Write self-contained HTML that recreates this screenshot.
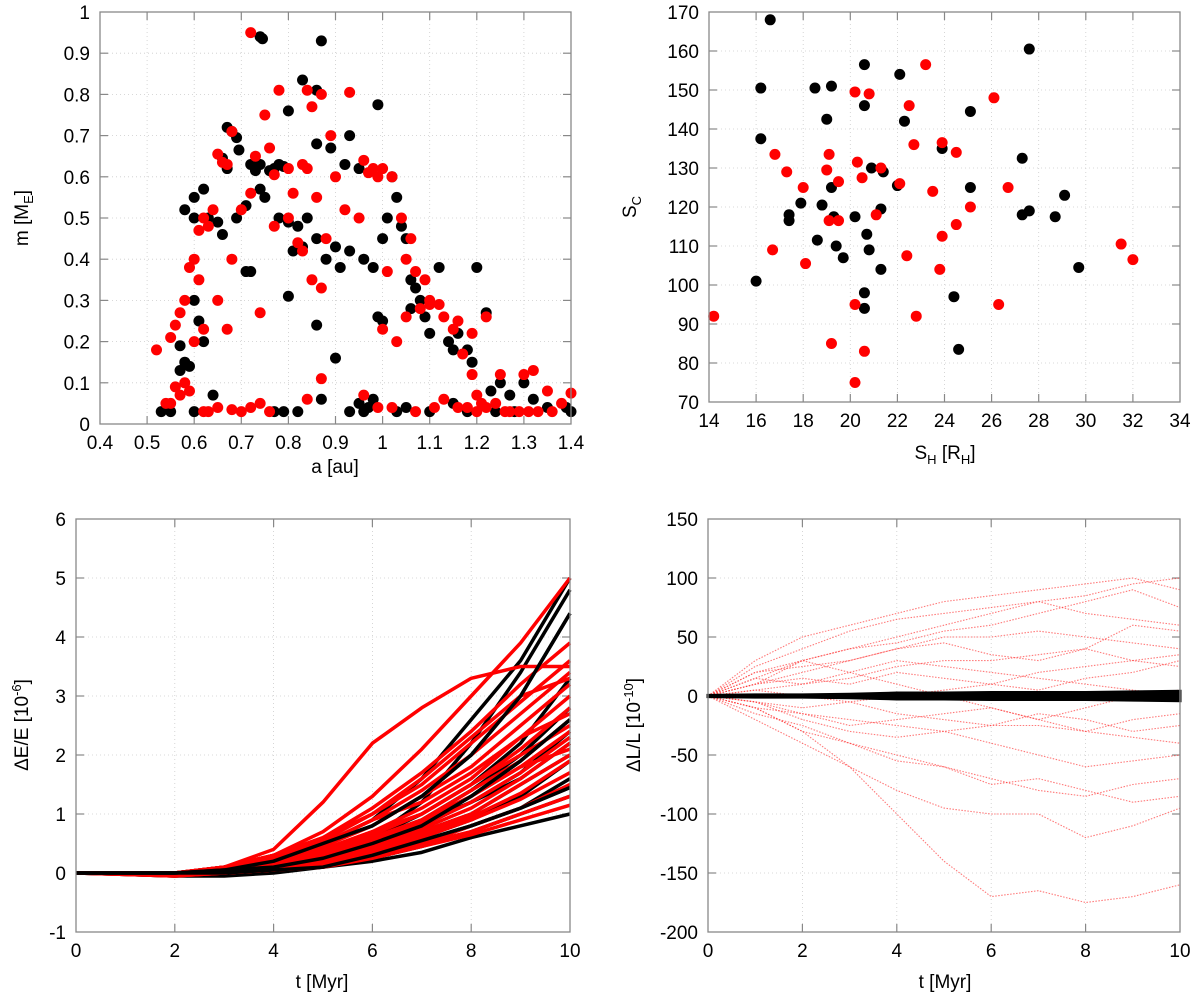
<!DOCTYPE html>
<html><head><meta charset="utf-8"><style>
body{margin:0;background:#fff;}
svg{display:block;font-family:"Liberation Sans",sans-serif;}
</style></head><body>
<svg id="c" width="1200" height="1008"></svg>
<script>
// ---------- DATA ----------
const tlBlack=[[0.74,0.94],[0.745,0.935],[0.87,0.93],[0.83,0.835],[0.86,0.81],[0.80,0.76],[0.99,0.775],[0.67,0.72],[0.68,0.71],[0.69,0.695],[0.695,0.665],[0.93,0.70],[0.86,0.68],[0.89,0.67],[0.92,0.63],[0.95,0.62],[0.72,0.63],[0.74,0.63],[0.77,0.62],[0.78,0.63],[0.79,0.625],[0.76,0.615],[0.73,0.615],[0.66,0.645],[0.67,0.62],[0.62,0.57],[0.60,0.55],[0.58,0.52],[0.60,0.5],[0.63,0.5],[0.65,0.49],[0.66,0.46],[0.69,0.5],[0.71,0.53],[0.74,0.57],[0.75,0.55],[0.78,0.5],[0.80,0.49],[0.82,0.48],[0.84,0.50],[0.86,0.45],[0.83,0.43],[0.81,0.42],[0.88,0.40],[0.90,0.43],[0.91,0.38],[0.93,0.42],[0.96,0.4],[0.98,0.38],[1.0,0.45],[1.02,0.6],[1.03,0.55],[1.01,0.5],[1.04,0.48],[1.05,0.45],[1.06,0.35],[1.07,0.33],[1.08,0.30],[1.06,0.28],[1.09,0.26],[1.1,0.22],[1.12,0.38],[1.14,0.2],[1.15,0.18],[1.16,0.22],[1.18,0.18],[1.19,0.15],[1.2,0.38],[1.22,0.27],[1.23,0.08],[1.25,0.1],[1.27,0.07],[1.3,0.1],[1.32,0.06],[1.35,0.04],[1.39,0.04],[1.4,0.03],[0.57,0.19],[0.58,0.15],[0.59,0.14],[0.6,0.3],[0.61,0.25],[0.62,0.2],[0.57,0.13],[0.55,0.03],[0.53,0.03],[0.6,0.03],[0.64,0.07],[0.71,0.37],[0.72,0.37],[0.8,0.31],[0.82,0.03],[0.86,0.24],[0.87,0.06],[0.9,0.16],[0.95,0.05],[0.97,0.04],[0.99,0.26],[1.0,0.25],[1.03,0.03],[1.05,0.04],[1.1,0.03],[1.15,0.05],[1.18,0.03],[1.24,0.03],[1.28,0.03],[0.77,0.03],[0.79,0.03],[0.93,0.03],[0.96,0.03],[0.98,0.06]];
const tlRed=[[0.72,0.95],[0.78,0.81],[0.84,0.81],[0.93,0.805],[0.87,0.80],[0.85,0.77],[0.75,0.75],[0.76,0.67],[0.89,0.70],[0.68,0.71],[0.65,0.655],[0.66,0.635],[0.67,0.63],[0.73,0.65],[0.77,0.605],[0.81,0.56],[0.80,0.62],[0.83,0.63],[0.84,0.62],[0.96,0.64],[0.97,0.61],[0.99,0.60],[0.98,0.62],[1.0,0.62],[1.02,0.6],[1.04,0.5],[1.06,0.45],[1.05,0.4],[1.07,0.37],[1.09,0.35],[1.1,0.3],[1.12,0.29],[1.13,0.26],[1.16,0.25],[1.19,0.22],[1.22,0.26],[1.25,0.12],[1.3,0.12],[1.32,0.13],[1.35,0.08],[1.4,0.075],[0.62,0.5],[0.63,0.48],[0.64,0.52],[0.61,0.47],[0.6,0.4],[0.61,0.35],[0.59,0.38],[0.58,0.3],[0.57,0.27],[0.56,0.24],[0.55,0.21],[0.52,0.18],[0.56,0.09],[0.57,0.07],[0.55,0.05],[0.54,0.05],[0.58,0.1],[0.59,0.08],[0.6,0.2],[0.62,0.23],[0.65,0.3],[0.67,0.23],[0.68,0.4],[0.7,0.52],[0.72,0.56],[0.74,0.27],[0.77,0.48],[0.8,0.5],[0.82,0.44],[0.83,0.42],[0.85,0.35],[0.86,0.55],[0.87,0.33],[0.88,0.45],[0.9,0.6],[0.92,0.52],[0.95,0.5],[1.0,0.23],[1.01,0.37],[1.03,0.2],[1.05,0.26],[1.08,0.28],[1.1,0.29],[1.15,0.23],[1.17,0.17],[1.19,0.12],[1.2,0.07],[1.21,0.05],[1.22,0.04],[1.24,0.05],[1.26,0.03],[1.27,0.03],[1.29,0.03],[1.31,0.03],[1.33,0.03],[1.36,0.03],[1.38,0.05],[1.13,0.06],[1.16,0.04],[1.18,0.04],[1.2,0.03],[0.65,0.04],[0.68,0.035],[0.7,0.03],[0.72,0.04],[0.74,0.05],[0.76,0.03],[0.84,0.06],[0.87,0.11],[0.96,0.07],[0.99,0.04],[1.02,0.04],[1.07,0.03],[1.11,0.04],[0.62,0.03],[0.63,0.03]];
const trBlack=[[16.6,168],[27.6,160.5],[16.2,150.5],[18.5,150.5],[19.2,151],[20.6,156.5],[22.1,154],[20.6,146],[25.1,144.5],[19.0,142.5],[22.3,142],[16.2,137.5],[23.9,135],[27.3,132.5],[20.9,130],[21.4,129],[22.0,125.5],[19.2,125],[25.1,125],[17.4,118],[17.4,116.5],[17.9,121],[18.8,120.5],[19.3,117.5],[21.3,119.5],[20.2,117.5],[27.3,118],[27.6,119],[29.1,123],[28.7,117.5],[18.6,111.5],[19.4,110],[19.7,107],[20.7,113],[20.8,109],[21.3,104],[16.0,101],[20.6,98],[20.6,94],[24.4,97],[29.7,104.5],[24.6,83.5]];
const trRed=[[23.2,156.5],[26.1,148],[20.2,149.5],[20.8,149],[22.5,146],[22.7,136],[23.9,136.5],[24.5,134],[16.8,133.5],[19.1,133.5],[20.3,131.5],[21.3,130],[17.3,129],[19.0,129.5],[20.5,127.5],[19.5,126.5],[22.1,126],[18.0,125],[26.7,125],[23.5,124],[25.1,120],[19.1,116.5],[19.5,116.5],[21.1,118],[23.9,112.5],[24.5,115.5],[16.7,109],[18.1,105.5],[22.4,107.5],[23.8,104],[31.5,110.5],[32.0,106.5],[14.2,92],[20.2,95],[22.8,92],[26.3,95],[19.2,85],[20.6,83],[20.2,75]];
const blT=[0,2,3,4,5,6,7,8,9,10];
const blBlack=[[0,0,0.05,0.15,0.3,0.6,1.2,2.2,3.4,4.8],[0,0,0.1,0.3,0.5,0.9,1.6,2.6,3.6,5.0],[0,0,0.05,0.2,0.5,0.8,1.3,2.0,3.0,4.4],[0,-0.05,0,0.1,0.3,0.6,1.0,1.5,2.2,3.3],[0,0,0.05,0.2,0.4,0.6,0.9,1.4,2.0,2.8],[0,0,0.1,0.2,0.35,0.55,0.85,1.2,1.7,2.4],[0,0,0.05,0.1,0.2,0.4,0.7,1.0,1.5,2.0],[0,-0.05,-0.05,0,0.1,0.3,0.5,0.8,1.1,1.6],[0,0,0,0.05,0.1,0.2,0.35,0.6,0.8,1.0],[0,0,0,0.05,0.15,0.25,0.45,0.7,1.0,1.3],[0,0,0.05,0.1,0.2,0.35,0.6,0.9,1.3,1.9],[0,0,0.05,0.15,0.3,0.5,0.8,1.2,1.6,2.2],[0,0,0,0.05,0.1,0.3,0.55,0.8,1.1,1.45],[0,0,0.05,0.1,0.25,0.5,0.8,1.3,1.9,2.6]];
const blRed=[[0,0,0.1,0.4,1.2,2.2,2.8,3.3,3.5,3.5],[0,0,0.1,0.3,0.7,1.3,2.1,3.0,3.9,5.0],[0,0,0.1,0.3,0.6,1.1,1.7,2.4,3.2,3.9],[0,0,0.05,0.25,0.5,0.9,1.4,2.0,2.7,3.4],[0,0,0.05,0.2,0.45,0.8,1.3,1.8,2.5,3.2],[0,0,0.05,0.2,0.4,0.7,1.1,1.6,2.3,3.0],[0,0,0.05,0.2,0.4,0.7,1.0,1.5,2.1,2.8],[0,0,0.05,0.15,0.35,0.6,0.9,1.4,1.9,2.6],[0,0,0.05,0.15,0.3,0.55,0.85,1.3,1.8,2.4],[0,-0.05,0,0.1,0.3,0.5,0.8,1.2,1.7,2.3],[0,0,0.05,0.1,0.25,0.45,0.75,1.1,1.6,2.2],[0,0,0.05,0.1,0.25,0.45,0.7,1.0,1.5,2.0],[0,0,0,0.1,0.2,0.4,0.65,0.95,1.35,1.9],[0,0,0,0.1,0.2,0.35,0.6,0.9,1.25,1.7],[0,0,0,0.05,0.15,0.3,0.5,0.8,1.1,1.5],[0,-0.05,0,0.05,0.15,0.3,0.5,0.7,1.0,1.3],[0,0,0,0.05,0.1,0.25,0.45,0.65,0.9,1.15],[0,0,0.1,0.3,0.6,1.0,1.5,2.2,2.9,3.6],[0,0,0.05,0.15,0.35,0.65,1.0,1.5,2.0,2.5],[0,0,0.05,0.1,0.3,0.55,0.9,1.3,1.8,2.1],[0,0,0.1,0.25,0.55,1.0,1.6,2.3,3.0,3.3],[0,0,0.05,0.2,0.5,0.9,1.2,1.7,2.3,2.7]];
const blBlackTop=[2,12,13];
const brT=[0,1,2,3,4,5,6,7,8,9,10];
const brRed=[[0,20,30,40,50,60,70,80,85,95,100],[0,30,50,60,70,80,85,90,95,100,90],[0,15,30,40,45,55,60,70,80,90,75],[0,-10,-30,-60,-100,-140,-170,-165,-175,-170,-160],[0,-20,-40,-60,-80,-95,-100,-100,-120,-110,-95],[0,-10,-30,-40,-55,-60,-70,-80,-85,-75,-70],[0,10,20,30,40,50,50,55,50,45,40],[0,-5,-15,-20,-25,-30,-40,-50,-60,-55,-50],[0,5,10,15,25,30,30,35,40,30,25],[0,-5,-10,-5,-15,-20,-25,-25,-30,-35,-40],[0,10,15,10,20,15,10,5,15,20,30],[0,-10,-15,-25,-20,-15,-10,-20,-30,-20,-15],[0,20,25,30,40,45,35,30,40,60,55],[0,-15,-25,-40,-50,-60,-75,-70,-80,-90,-85],[0,5,0,-5,0,5,10,20,25,30,35],[0,15,10,20,30,25,20,15,10,5,0],[0,-5,-20,-30,-35,-30,-25,-15,-20,-30,-25],[0,25,40,55,65,70,75,80,70,65,60],[0,10,30,20,10,0,-10,-20,-10,0,5]];
const brBlackUp=[0.5,1,1,1.5,2.5,2.5,3,3,3,3.5,4];
const brBlackLo=[-0.5,-1,-1,-1.5,-2.5,-2.5,-3,-3,-3,-3.5,-4];
const tlXT=[0.4,0.5,0.6,0.7,0.8,0.9,1,1.1,1.2,1.3,1.4], tlYT=[0,0.1,0.2,0.3,0.4,0.5,0.6,0.7,0.8,0.9,1];
const trXT=[14,16,18,20,22,24,26,28,30,32,34], trYT=[70,80,90,100,110,120,130,140,150,160,170];
const bXT=[0,2,4,6,8,10], blYT=[-1,0,1,2,3,4,5,6], brYT=[-200,-150,-100,-50,0,50,100,150];

// ---------- DRAW ----------
const NS='http://www.w3.org/2000/svg', svg=document.getElementById('c');
function mk(tag,at,parent){const e=document.createElementNS(NS,tag);for(const k in at)e.setAttribute(k,at[k]);(parent||svg).appendChild(e);return e;}
function panel(name,L,T,R,B,x0,x1,y0,y1,xt,yt){
  const g=mk('g',{});
  
  
  const sx=v=>L+(v-x0)/(x1-x0)*(R-L), sy=v=>B-(v-y0)/(y1-y0)*(B-T);
  xt.forEach(v=>{const x=sx(v);
    if(v!==x0&&v!==x1){const gl=mk('line',{x1:x,x2:x,y1:T,y2:B,stroke:'#ccc','stroke-width':0.8,'stroke-dasharray':'1 3'},g);
      mk('line',{x1:x,x2:x,y1:B,y2:B-8,stroke:'#888','stroke-width':1.2},g);mk('line',{x1:x,x2:x,y1:T,y2:T+8,stroke:'#888','stroke-width':1.2},g);}
    const t=mk('text',{x:x,y:B+25,'text-anchor':'middle','font-size':19,fill:'#000'},g);t.textContent=v;
    });
  yt.forEach(v=>{const y=sy(v);
    if(v!==y0&&v!==y1){const gl=mk('line',{x1:L,x2:R,y1:y,y2:y,stroke:'#ccc','stroke-width':0.8,'stroke-dasharray':'1 3'},g);
      mk('line',{x1:L,x2:L+8,y1:y,y2:y,stroke:'#888','stroke-width':1.2},g);mk('line',{x1:R,x2:R-8,y1:y,y2:y,stroke:'#888','stroke-width':1.2},g);}
    const t=mk('text',{x:L-10,y:y+7,'text-anchor':'end','font-size':19,fill:'#000'},g);t.textContent=v;
    });
  const cg=mk('g',{},g);
  return {g,cg,sx,sy,frame:()=>{const f=mk('rect',{x:L,y:T,width:R-L,height:B-T,fill:'none',stroke:'#888','stroke-width':1.3},g);}};
}
function label(txt,x,y,rot,name){const t=mk('text',{x:x,y:y,'text-anchor':'middle','font-size':19,fill:'#000',transform:rot?`rotate(-90 ${x} ${y})`:''});t.innerHTML=txt;
  }

// Top-left
let p=panel('mass-vs-a-panel',100,12,571,424,0.4,1.4,0,1,tlXT,tlYT);
tlBlack.forEach(d=>{const c=mk('circle',{cx:p.sx(d[0]),cy:p.sy(d[1]),r:5.5,fill:'#000'},p.cg);});
tlRed.forEach(d=>{const c=mk('circle',{cx:p.sx(d[0]),cy:p.sy(d[1]),r:5.5,fill:'#f00'},p.cg);});
p.frame();
label('m [M<tspan font-size="13" dy="5">E</tspan><tspan dy="-5">]</tspan>',28,218,true,'y-axis-title');
label('a [au]',335,473,false,'x-axis-title');

// Top-right
p=panel('sc-vs-sh-panel',709,12,1180,402,14,34,70,170,trXT,trYT);
trBlack.forEach(d=>{const c=mk('circle',{cx:p.sx(d[0]),cy:p.sy(d[1]),r:5.5,fill:'#000'},p.cg);});
trRed.forEach(d=>{const c=mk('circle',{cx:p.sx(d[0]),cy:p.sy(d[1]),r:5.5,fill:'#f00'},p.cg);});
p.frame();
label('S<tspan font-size="13" dy="5">C</tspan>',636,207,true,'y-axis-title');
label('S<tspan font-size="13" dy="5">H</tspan><tspan dy="-5"> [R</tspan><tspan font-size="13" dy="5">H</tspan><tspan dy="-5">]</tspan>',945,459,false,'x-axis-title');

// Bottom-left
p=panel('energy-error-panel',76,519,570,932,0,10,-1,6,bXT,blYT);
function line(arr,T,pp,col,w,name,extra){const pts=arr.map((v,i)=>pp.sx(T[i])+','+pp.sy(v)).join(' ');
  const e=mk('polyline',Object.assign({points:pts,fill:'none',stroke:col,'stroke-width':w,'stroke-linejoin':'round'},extra||{}),pp.cg);
  }
blBlack.forEach(a=>line(a,blT,p,'#000',3.5,'black-energy-curve'));
blRed.forEach(a=>line(a,blT,p,'#f00',3.5,'red-energy-curve'));
blBlackTop.forEach(i=>line(blBlack[i],blT,p,'#000',3.5,'black-energy-curve'));
p.frame();
label('ΔE/E [10<tspan font-size="13" dy="-7">-6</tspan><tspan dy="7">]</tspan>',28,725,true,'y-axis-title');
label('t [Myr]',322,988,false,'x-axis-title');

// Bottom-right
p=panel('angular-momentum-error-panel',708,519,1180,932,0,10,-200,150,bXT,brYT);
brRed.forEach(a=>line(a,brT,p,'#f33',1.1,'red-momentum-curve',{'stroke-dasharray':'1.5 1.5',opacity:0.65}));
{const pts=brBlackUp.map((v,i)=>p.sx(brT[i])+','+p.sy(v)).concat(brBlackLo.map((v,i)=>p.sx(brT[i])+','+p.sy(v)).reverse()).join(' ');
 const e=mk('polygon',{points:pts,fill:'#000',stroke:'#000','stroke-width':3},p.cg);
 }
p.frame();
label('ΔL/L [10<tspan font-size="13" dy="-7">-10</tspan><tspan dy="7">]</tspan>',640,725,true,'y-axis-title');
label('t [Myr]',945,988,false,'x-axis-title');
</script>
</body></html>
